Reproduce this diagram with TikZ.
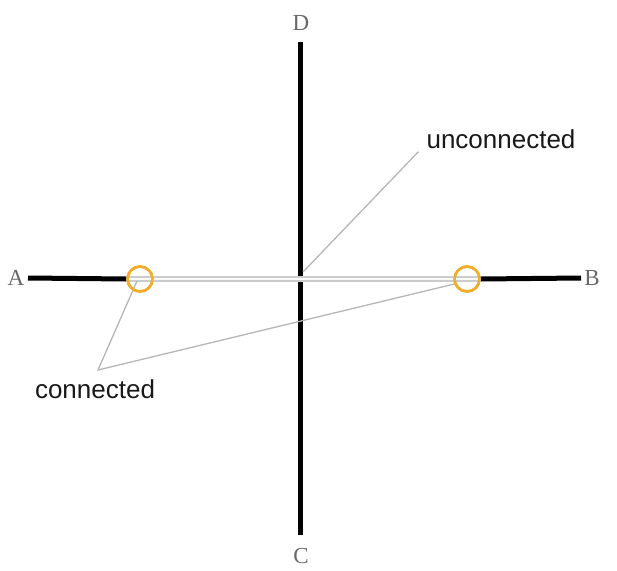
\documentclass[tikz,border=0pt]{standalone}
\usepackage{fontspec}
\setmainfont{Liberation Serif}
\setsansfont{Liberation Sans}
\usetikzlibrary{positioning}
\definecolor{ringorange}{RGB}{242,172,40}
\definecolor{leadgray}{RGB}{182,182,182}
\definecolor{lettergray}{RGB}{105,105,105}

\begin{document}
\begin{tikzpicture}[x=1pt, y=-1pt,
  wire/.style={line width=5pt, black},
  band/.style={draw=gray!40, double=white!96!gray, double distance=2pt, line width=2.2pt},
  ring/.style={circle, draw=ringorange, line width=2.5pt, minimum size=25pt, inner sep=0pt},
  leader/.style={leadgray, line width=1.3pt},
  letter/.style={font=\fontsize{23}{23}\selectfont, text=lettergray, inner sep=1pt},
  note/.style={font=\sffamily\fontsize{26}{26}\selectfont, text=black!90, inner sep=0pt},
]
\useasboundingbox (0,0) rectangle (617,570);

% end labels
\node[letter] (A) at (16,278) {A};
\node[letter] (B) at (592,278) {B};
\node[letter] (D) at (301,23) {D};
\node[letter] (C) at (301,556) {C};

\coordinate (aend) at (28,278);
\coordinate (bend) at (581,278);
\coordinate (dend) at (300,42);
\coordinate (cend) at (300,535);
\coordinate (cross) at (303,272);
\coordinate (vtx) at (98,370);

\node[ring] (cl) at (140,279) {};
\node[ring] (cr) at (467,279) {};

\node[note] (un) at (501,139) {unconnected};
\node[note] (co) at (95,389) {connected};

% lines
\draw[wire] (dend) -- (cend);
\draw[band] (cl.west) -- (cr.east);
\draw[wire] (aend) -- (cl.west);
\draw[wire] (cr.east) -- (bend);

% leaders
\draw[leader] (cross) -- ([shift={(-8,3)}]un.south west);
\draw[leader] ([shift={(-3,2)}]cl.center) -- (vtx) -- ([shift={(1,5)}]cr.west);

\node[ring] at (cl) {};
\node[ring] at (cr) {};
\end{tikzpicture}
\end{document}
